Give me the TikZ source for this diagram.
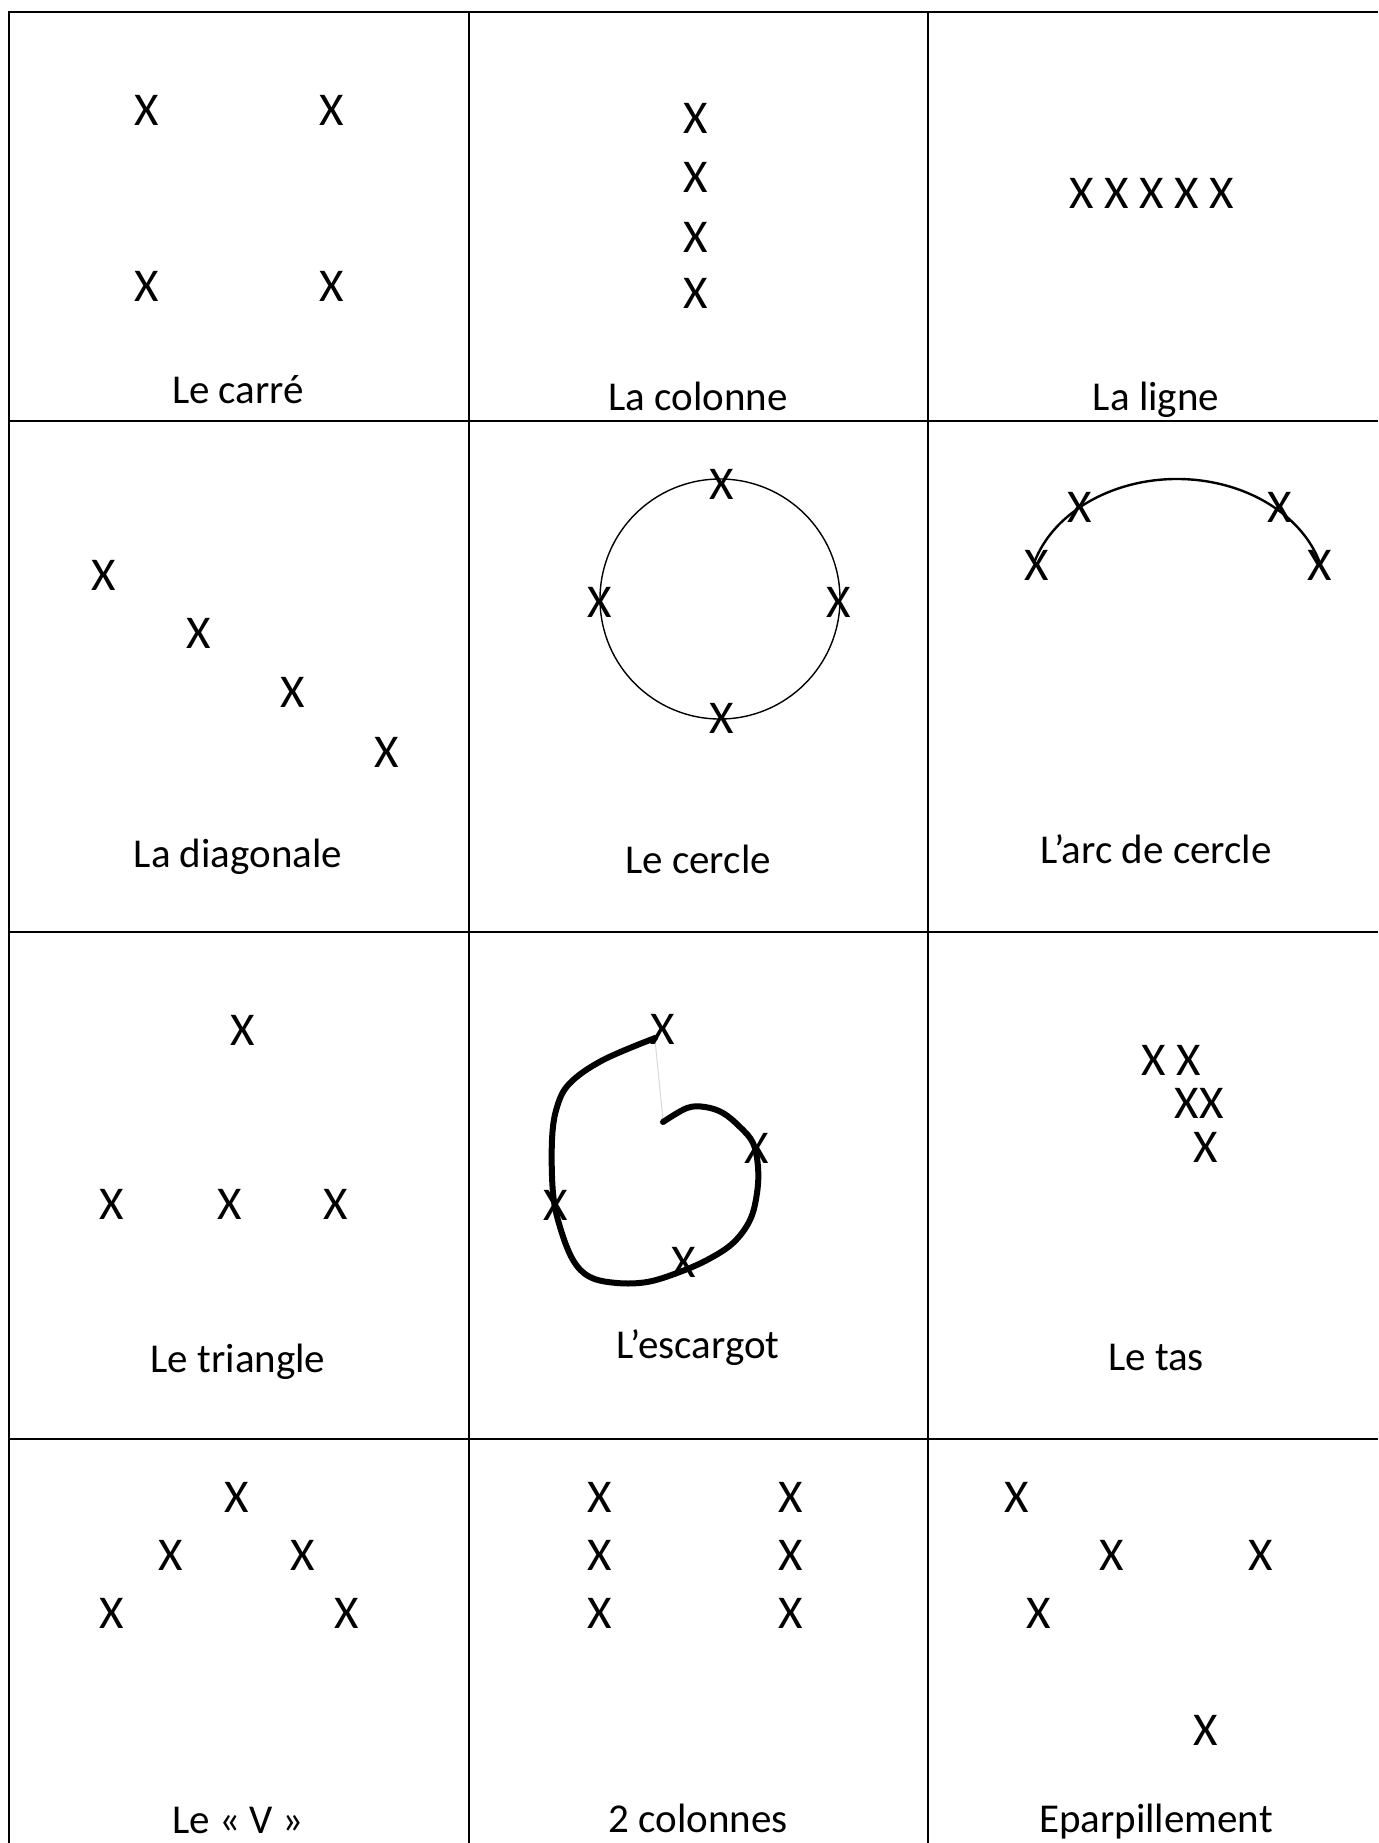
\documentclass[tikz,border=0pt]{standalone}
\usepackage{fontspec}
\usetikzlibrary{calc}
\setmainfont{Carlito}
\newfontfamily\labfont{Carlito}
\newfontfamily\xfont{Carlito}
\begin{document}
\begin{tikzpicture}[x=0.5pt,y=-0.5pt,
  gridline/.style={line width=1pt},
  xm/.style={inner sep=0pt,font=\xfont\fontsize{23.5}{28}\selectfont},
  lab/.style={inner sep=0pt,anchor=base,font=\labfont\fontsize{20.5}{24}\selectfont}]
\useasboundingbox (0,0) rectangle (1378,1843);
% table
\draw[gridline] (9,1843) -- (9,12) -- (1378,12);
\draw[gridline] (469,12) -- (469,1843);
\draw[gridline] (928,12) -- (928,1843);
\draw[gridline] (9,421) -- (1378,421);
\draw[gridline] (9,932) -- (1378,932);
\draw[gridline] (9,1439) -- (1378,1439);
% Le carre
\node[xm] (c1) at (147,110) {X};
\node[xm] (c2) at (332,110) {X};
\node[xm] (c3) at (147,286) {X};
\node[xm] (c4) at (332,286) {X};
\node[lab] (lcarre) at (238,403) {Le carré};
% La colonne
\node[xm] (k1) at (696,118) {X};
\node[xm] (k2) at (696,177) {X};
\node[xm] (k3) at (696,237) {X};
\node[xm] (k4) at (696,293) {X};
\node[lab] (lcolonne) at (698,410) {La colonne};
% La ligne
\node[xm] (li) at (1152,193) {X X X X X};
\node[lab] (lligne) at (1156,410) {La ligne};
% La diagonale
\node[xm] (d1) at (104,575) {X};
\node[xm] (d2) at (199,633) {X};
\node[xm] (d3) at (293,692) {X};
\node[xm] (d4) at (387,752) {X};
\node[lab] (ldiag) at (238,867) {La diagonale};
% Le cercle
\draw[line width=0.7pt] (720,599) circle[radius=120];
\node[xm] (o1) at (722,484) {X};
\node[xm] (o2) at (600,602) {X};
\node[xm] (o3) at (839,602) {X};
\node[xm] (o4) at (722,718) {X};
\node[lab] (lcercle) at (698,873) {Le cercle};
% L'arc de cercle
\draw[line width=1.2pt] ($(1177,596)+(197:149 and 117)$) arc[start angle=197,end angle=343,x radius=149,y radius=117];
\node[xm] (a1) at (1080,507) {X};
\node[xm] (a2) at (1280,507) {X};
\node[xm] (a3) at (1037,565) {X};
\node[xm] (a4) at (1320,565) {X};
\node[lab] (larc) at (1156,863) {L’arc de cercle};
% Le triangle
\node[xm] (t1) at (243,1030) {X};
\node[xm] (t2) at (112,1204) {X};
\node[xm] (t3) at (230,1204) {X};
\node[xm] (t4) at (336,1204) {X};
\node[lab] (ltri) at (238,1372) {Le triangle};
% L'escargot
\draw[gray!30,line width=0.5pt] (655,1040) -- (663,1120);
\draw[line width=3pt,line cap=round,line join=round] plot[smooth,tension=0.6] coordinates {
(655,1038) (603,1060) (570,1083) (557,1107) (552,1140) (553,1193) (560,1227)
(573,1260) (590,1277) (617,1283) (647,1282) (677,1273) (707,1260) (733,1243)
(750,1220) (757,1193) (758,1167) (753,1143) (740,1127) (723,1113) (705,1107)
(687,1108) (663,1122)};
\node[xm] (e1) at (663,1029) {X};
\node[xm] (e2) at (757,1148) {X};
\node[xm] (e3) at (556,1205) {X};
\node[xm] (e4) at (684,1262) {X};
\node[lab] (lesc) at (698,1358) {L’escargot};
% Le tas
\node[xm] (s1) at (1171,1060) {X X};
\node[xm] (s2) at (1199,1103) {XX};
\node[xm] (s3) at (1206,1147) {X};
\node[lab] (ltas) at (1156,1370) {Le tas};
% Le V
\node[xm] (v1) at (237,1497) {X};
\node[xm] (v2) at (171,1555) {X};
\node[xm] (v3) at (303,1555) {X};
\node[xm] (v4) at (112,1613) {X};
\node[xm] (v5) at (347,1613) {X};
\node[lab] (lv) at (238,1833) {Le « V »};
% 2 colonnes
\node[xm] (p1) at (600,1497) {X};
\node[xm] (p2) at (600,1555) {X};
\node[xm] (p3) at (600,1613) {X};
\node[xm] (q1) at (791,1497) {X};
\node[xm] (q2) at (791,1555) {X};
\node[xm] (q3) at (791,1613) {X};
\node[lab] (l2col) at (698,1832) {2 colonnes};
% Eparpillement
\node[xm] (r1) at (1017,1497) {X};
\node[xm] (r2) at (1112,1555) {X};
\node[xm] (r3) at (1261,1555) {X};
\node[xm] (r4) at (1039,1613) {X};
\node[xm] (r5) at (1206,1730) {X};
\node[lab] (lepar) at (1156,1832) {Eparpillement};
\end{tikzpicture}
\end{document}
